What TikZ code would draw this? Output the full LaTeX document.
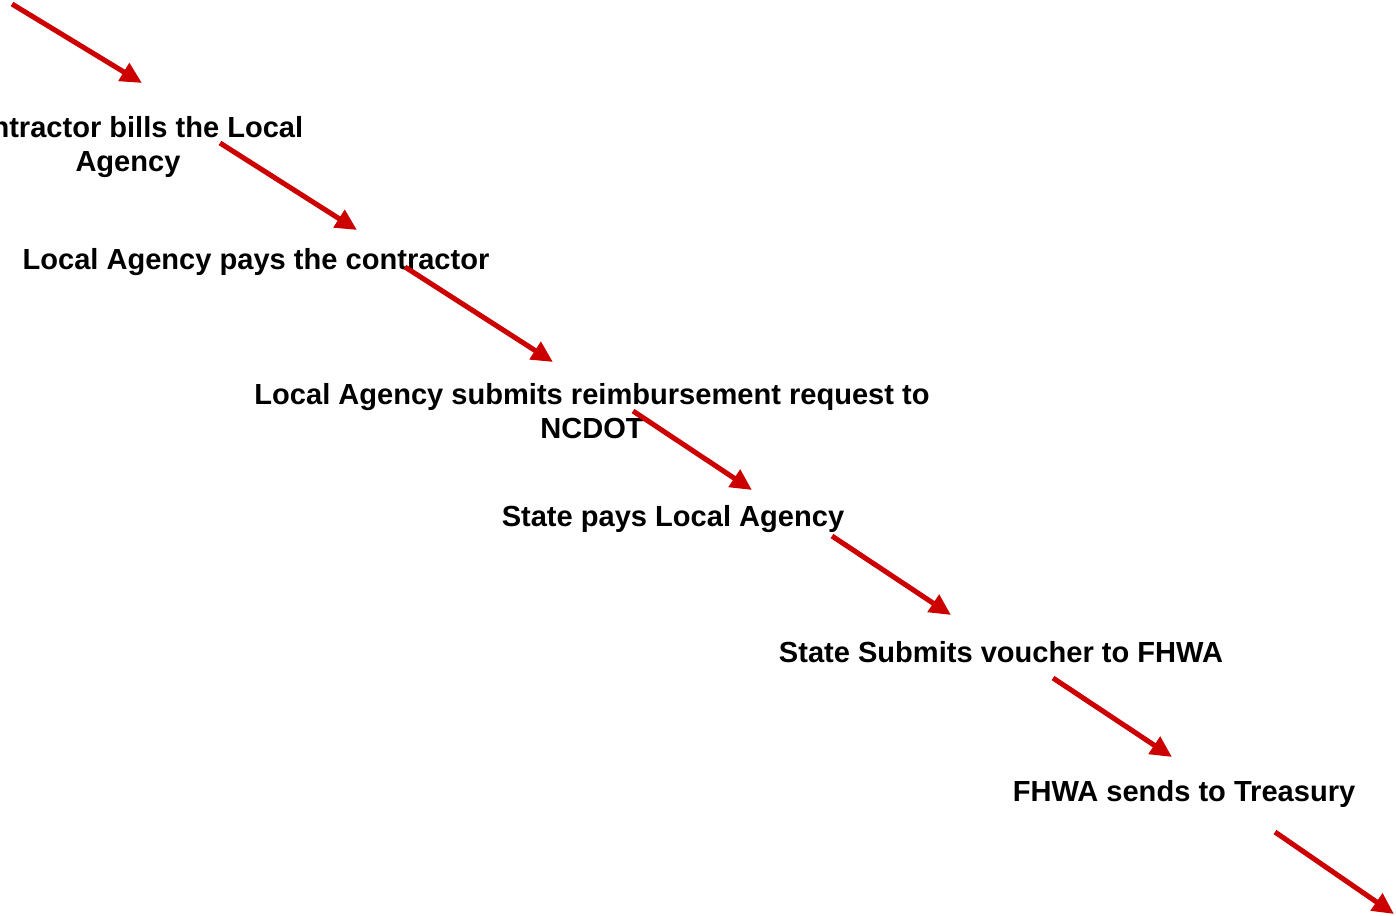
\documentclass[tikz,border=0pt]{standalone}
\usepackage{fontspec}
\setmainfont{Liberation Sans}
\usepackage{tikz}
\usetikzlibrary{arrows.meta, positioning, calc}
\definecolor{flowred}{RGB}{204,0,0}
\tikzstyle{stage} = [font=\fontsize{21.8}{25.5}\selectfont\bfseries, align=center, inner sep=0pt]
\tikzstyle{flow} = [draw=flowred, line width=3.8pt, -{Triangle[length=16pt,width=15pt]}, color=flowred]

\begin{document}
\begin{tikzpicture}[x=0.75pt, y=-0.75pt]
    \useasboundingbox (0,0) rectangle (1396,916);
    \node (bills) [stage] at (128,147) {Contractor bills the Local\\Agency};
    \node (pays) [stage] at (256,262) {Local Agency pays the contractor};
    \node (submits) [stage] at (592,411) {Local Agency submits reimbursement request to\\NCDOT};
    \node (statepays) [stage] at (673,519) {State pays Local Agency};
    \node (voucher) [stage] at (1001,652) {State Submits voucher to FHWA};
    \node (treasury) [stage] at (1184,794) {FHWA sends to Treasury};

    \coordinate (in) at (12,4);
    \coordinate (out) at (1394,914);

    \draw [flow] (in) -- ($(bills)+(14,-64)$);
    \draw [flow] ($(bills)+(92,-4)$) -- ($(pays)+(101,-32)$);
    \draw [flow] ($(pays)+(149,5)$) -- ($(submits)+(-39,-49)$);
    \draw [flow] ($(submits)+(41,0)$) -- ($(statepays)+(79,-29)$);
    \draw [flow] ($(statepays)+(159,17)$) -- ($(voucher)+(-50,-37)$);
    \draw [flow] ($(voucher)+(52,26)$) -- ($(treasury)+(-12,-37)$);
    \draw [flow] ($(treasury)+(91,38)$) -- (out);
\end{tikzpicture}
\end{document}
